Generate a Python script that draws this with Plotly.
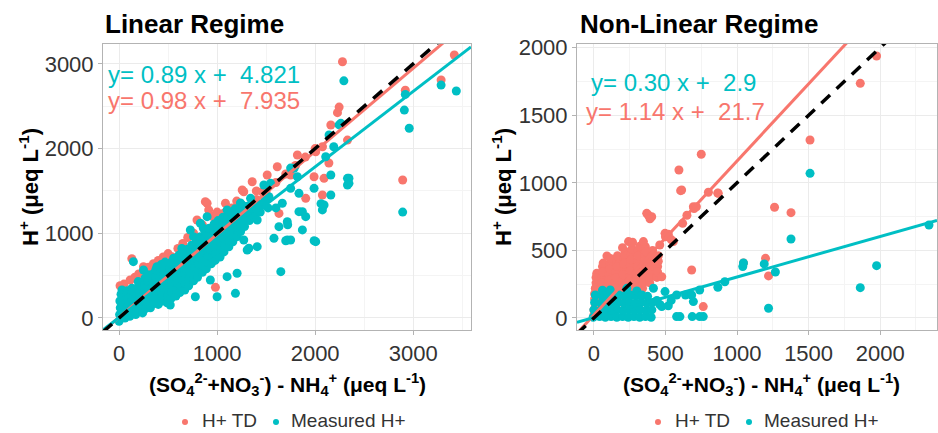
import plotly.graph_objects as go

# ---------------- data ----------------
# Linear regime, measured H+  (x, y) in ueq/L
lin_meas_pts = [
    (0, -40), (5, 40), (12, 120), (8, 200), (20, 280), (30, 330), (35, 60), (40, 160), (38, 240),
    (60, 0), (65, 90), (70, 180), (75, 260), (85, 320), (90, 40), (80, 130), (88, 220),
    (110, 20), (115, 100), (120, 190), (125, 270), (130, 350), (146, 665), (135, 60), (140, 150),
    (138, 230), (145, 310), (170, 40), (175, 120), (180, 200), (185, 280), (190, 360), (195, 430),
    (200, 80), (205, 170), (210, 250), (200, 330), (215, 400), (240, 60), (245, 150), (250, 230),
    (255, 310), (249, 567), (260, 390), (265, 470), (270, 110), (275, 200), (280, 280), (285, 360),
    (290, 440), (295, 510), (320, 120), (325, 200), (330, 280), (335, 360), (340, 440), (345, 520),
    (350, 170), (355, 250), (360, 330), (365, 410), (370, 490), (375, 570), (386, 606), (400, 160),
    (405, 240), (410, 320), (415, 400), (420, 480), (425, 560), (430, 630), (440, 200), (445, 280),
    (450, 360), (455, 440), (460, 520), (465, 600), (470, 660), (490, 180), (495, 260), (500, 340),
    (505, 420), (510, 500), (515, 580), (520, 650), (522, 153), (530, 230), (535, 310), (540, 390),
    (545, 470), (550, 550), (556, 705), (560, 630), (580, 260), (585, 340), (590, 420), (595, 500),
    (600, 580), (605, 660), (610, 740), (620, 300), (625, 380), (630, 460), (635, 540), (640, 620),
    (645, 700), (650, 780), (640, 820), (670, 330), (675, 410), (680, 490), (685, 570), (690, 650),
    (695, 730), (700, 810), (710, 380), (715, 460), (720, 540), (725, 620), (730, 700), (727, 1039),
    (735, 780), (740, 860), (760, 440), (765, 520), (770, 600), (775, 680), (778, 251), (780, 760),
    (785, 840), (790, 920), (760, 960), (800, 480), (805, 560), (810, 640), (815, 720), (820, 800),
    (825, 880), (829, 1118), (830, 960), (850, 540), (855, 620), (860, 700), (865, 780), (870, 860),
    (875, 940), (880, 1020), (860, 1060), (890, 580), (895, 660), (898, 1196), (900, 740), (905, 820),
    (910, 900), (915, 980), (920, 1060), (931, 449), (940, 640), (945, 720), (950, 800), (955, 880),
    (960, 960), (965, 1040), (970, 1110), (980, 680), (985, 760), (990, 840), (995, 920), (1000, 251),
    (1000, 1000), (1005, 1080), (1010, 1150), (1030, 720), (1035, 800), (1040, 880), (1045, 960),
    (1050, 1040), (1055, 1120), (1060, 1190), (1070, 780), (1075, 860), (1080, 940), (1085, 1020),
    (1090, 1100), (1102, 488), (1102, 1275), (1095, 1180), (1120, 840), (1125, 920), (1130, 1000),
    (1135, 1080), (1140, 1160), (1145, 1230), (1160, 900), (1165, 980), (1170, 1060), (1175, 1140),
    (1180, 1220), (1187, 291), (1185, 1290), (1204, 528), (1205, 960), (1210, 1040), (1215, 1120),
    (1220, 1200), (1225, 1280), (1238, 1357), (1240, 1020), (1245, 1100), (1250, 1180), (1255, 1260),
    (1260, 1330), (1204, 1078), (1272, 921), (1280, 1080), (1290, 1160), (1300, 1240), (1307, 803),
    (1310, 1320), (1324, 823), (1330, 1150), (1340, 1230), (1341, 1413), (1360, 1300), (1380, 1200),
    (1400, 1280), (1409, 842), (1409, 1157), (1420, 1350), (1440, 1250), (1460, 1330), (1477, 1570),
    (1490, 1400), (1529, 1432), (1520, 1300), (1545, 1590), (1580, 941), (1600, 1300), (1631, 1078),
    (1650, 547), (1665, 1354), (1700, 912), (1716, 1137), (1716, 921), (1720, 1100), (1750, 921),
    (1750, 1531), (1750, 1770), (1785, 1767), (1819, 1668), (1835, 1472), (1835, 1255), (1870, 1255),
    (1870, 1040), (1904, 1196), (1989, 1531), (1990, 912), (2006, 901), (2060, 1350), (2074, 1276),
    (2091, 1334), (2108, 1904), (2142, 2161), (2160, 1688), (2160, 1452), (2190, 2022), (2245, 2280),
    (2262, 2298), (2293, 2800), (2330, 1649), (2330, 1570), (2345, 1650), (2345, 1590), (2893, 1250),
    (2910, 2455), (2920, 2640), (2960, 2240), (3285, 2750), (3440, 2680),
]

# Linear regime, thermodynamic H+ (H+ TD)
lin_td_pts = [
    (10, 380), (50, 400), (100, 150), (113, 449), (130, 700), (160, 480), (200, 520), (200, 250),
    (249, 606), (300, 600), (300, 350), (350, 640), (400, 680), (400, 420), (450, 720), (500, 760),
    (500, 520), (539, 724), (600, 820), (600, 620), (650, 880), (700, 950), (700, 720), (760, 1000),
    (795, 1157), (800, 800), (850, 1100), (880, 1373), (898, 1354), (900, 900), (914, 1275),
    (950, 1200), (983, 362), (1000, 1250), (1000, 1216), (1000, 1000), (1068, 1236), (1085, 1354),
    (1100, 1100), (1150, 1300), (1200, 1380), (1200, 1200), (1256, 1511), (1272, 1491), (1300, 1300),
    (1358, 1609), (1400, 1500), (1400, 1400), (1460, 1491), (1500, 1500), (1511, 1688), (1600, 1600),
    (1614, 1786), (1631, 1235), (1700, 1700), (1750, 1688), (1800, 1800), (1819, 1924), (1900, 1900),
    (1904, 1413), (1989, 1668), (2000, 2000), (2006, 1963), (2074, 1452), (2075, 2022), (2091, 1649),
    (2140, 1830), (2160, 2279), (2228, 2424), (2245, 2490), (2279, 3026), (2330, 2100), (2893, 1629),
    (2920, 2690), (3285, 2810), (3420, 3105),
]

# Non-linear regime, thermodynamic H+ (H+ TD)
nl_td_pts = [
    (0, 20), (10, 100), (5, 180), (15, 260), (20, 330), (0, 60), (5, 140), (10, 220), (15, 300),
    (40, 60), (45, 140), (50, 220), (55, 300), (60, 380), (65, 406), (45, 100), (50, 180), (55, 260),
    (60, 340), (90, 80), (95, 160), (100, 240), (105, 320), (110, 400), (91, 459), (95, 120),
    (100, 200), (105, 280), (110, 360), (115, 440), (140, 100), (145, 180), (150, 260), (155, 340),
    (160, 420), (183, 429), (145, 140), (150, 220), (155, 300), (160, 380), (165, 460), (190, 120),
    (195, 200), (200, 280), (205, 360), (210, 440), (220, 490), (195, 160), (200, 240), (205, 320),
    (210, 400), (215, 470), (240, 150), (245, 230), (250, 310), (255, 390), (260, 470), (242, 565),
    (245, 190), (250, 270), (255, 350), (260, 430), (265, 510), (290, 180), (295, 260), (300, 340),
    (305, 420), (310, 500), (295, 220), (300, 300), (305, 380), (310, 460), (320, 530), (340, 220),
    (345, 300), (350, 380), (355, 460), (360, 527), (346, 565), (345, 260), (350, 340), (355, 420),
    (365, 490), (390, 260), (395, 340), (400, 420), (410, 500), (395, 300), (400, 380), (405, 460),
    (440, 300), (445, 380), (450, 460), (460, 540), (445, 340), (450, 420), (270, 560), (200, 520),
    (369, 774), (404, 749), (379, 762), (392, 734), (497, 626), (555, 565), (500, 600), (520, 620),
    (540, 580), (474, 305), (594, 1095), (606, 942), (613, 947), (620, 700), (650, 760), (683, 355),
    (695, 823), (700, 810), (716, 823), (750, 1211), (764, 84), (800, 930), (865, 924), (869, 922),
    (1045, 407), (1199, 441), (1220, 311), (1262, 819), (1377, 779), (1510, 1317), (1861, 1736),
    (1975, 1938),
]

# Non-linear regime, measured H+
nl_meas_pts = [
    (-5, 5), (0, 60), (5, 115), (10, 170), (40, 10), (45, 55), (50, 110), (55, 165), (60, 205),
    (80, 5), (85, 60), (90, 115), (95, 165), (114, 207), (120, 10), (125, 55), (130, 110), (135, 160),
    (160, 5), (165, 60), (170, 115), (175, 170), (200, 10), (205, 55), (210, 110), (215, 165),
    (230, 220), (240, 5), (245, 60), (250, 115), (255, 170), (280, 10), (285, 55), (290, 110),
    (295, 165), (300, 200), (320, 5), (325, 60), (330, 115), (335, 170), (360, 10), (365, 55),
    (370, 110), (375, 160), (400, 5), (405, 60), (410, 115), (416, 220), (440, 130), (460, 100),
    (474, 84), (497, 195), (520, 90), (540, 130), (578, 170), (578, 10), (601, 10), (640, 170),
    (683, 170), (687, 10), (695, 121), (739, 10), (739, 207), (764, 10), (866, 227), (915, 268),
    (1040, 380), (1045, 407), (1190, 400), (1220, 72), (1268, 340), (1377, 584), (1510, 1070),
    (1861, 224), (1975, 387), (2341, 688),
]

# Least-squares fits: [H+ TD, Measured H+]
lin_slopes = [0.98, 0.89]
lin_intercepts = [7.935, 4.821]
nl_slopes = [1.14, 0.30]
nl_intercepts = [21.7, 2.9]

series_names = ["H+ TD", "Measured H+"]

# ---------------- styling ----------------
RED = "#F8766D"
TEAL = "#00BFC4"
FONT = "Liberation Sans, Arial, sans-serif"
W, H = 938, 433

lin_xrange = [-164, 3590]
lin_yrange = [-142, 3235]
nl_xrange = [-118, 2397]
nl_yrange = [-89, 2027]


def px(x):
    return x / W


def py(y):
    return 1 - y / H


fig = go.Figure()

panels = [
    dict(xa="x", ya="y", pts=[lin_td_pts, lin_meas_pts],
         slopes=lin_slopes, intercepts=lin_intercepts, xr=lin_xrange),
    dict(xa="x2", ya="y2", pts=[nl_td_pts, nl_meas_pts],
         slopes=nl_slopes, intercepts=nl_intercepts, xr=nl_xrange),
]
colors = [RED, TEAL]

for p in panels:
    for pts, name, col in zip(p["pts"], series_names, colors):
        xs, ys = zip(*pts)
        fig.add_trace(go.Scatter(
            x=xs, y=ys, mode="markers", name=name, xaxis=p["xa"], yaxis=p["ya"],
            showlegend=False, marker=dict(color=col, size=9),
        ))
    for m, b, col in zip(p["slopes"], p["intercepts"], colors):
        lx = p["xr"]
        fig.add_trace(go.Scatter(
            x=lx, y=[m * v + b for v in lx], mode="lines", showlegend=False,
            xaxis=p["xa"], yaxis=p["ya"], line=dict(color=col, width=3), hoverinfo="skip",
        ))
    # 1:1 reference line
    fig.add_trace(go.Scatter(
        x=p["xr"], y=p["xr"], mode="lines", showlegend=False, xaxis=p["xa"], yaxis=p["ya"],
        line=dict(color="black", width=3.5, dash="12px,9px"), hoverinfo="skip",
    ))

axis_common = dict(
    ticks="outside", ticklen=4, tickcolor="#b3b3b3", tickwidth=1,
    tickfont=dict(size=22, color="#333333", family=FONT),
    showgrid=True, gridcolor="#ebebeb", gridwidth=1,
    showline=True, mirror=True, linecolor="#b3b3b3", linewidth=1,
    zeroline=False, automargin=False,
)

fig.update_layout(
    width=W, height=H, margin=dict(l=0, r=0, t=0, b=0),
    plot_bgcolor="white", paper_bgcolor="white",
    font=dict(family=FONT), showlegend=False,
    xaxis=dict(domain=[px(103), px(471)], range=lin_xrange, tickvals=[0, 1000, 2000, 3000],
               minor=dict(dtick=500, tick0=0, showgrid=True, gridcolor="#f4f4f4"),
               anchor="y", **axis_common),
    yaxis=dict(domain=[py(330), py(44)], range=lin_yrange, tickvals=[0, 1000, 2000, 3000],
               minor=dict(dtick=500, tick0=0, showgrid=True, gridcolor="#f4f4f4"),
               anchor="x", **axis_common),
    xaxis2=dict(domain=[px(577), px(937)], range=nl_xrange, tickvals=[0, 500, 1000, 1500, 2000],
                minor=dict(dtick=250, tick0=0, showgrid=True, gridcolor="#f4f4f4"),
                anchor="y2", **axis_common),
    yaxis2=dict(domain=[py(330), py(44)], range=nl_yrange, tickvals=[0, 500, 1000, 1500, 2000],
                minor=dict(dtick=250, tick0=0, showgrid=True, gridcolor="#f4f4f4"),
                anchor="x2", **axis_common),
)


def eq_text(m, b):
    return f"y= {m:.2f} x +\u00a0 {b:g}"


x_title = ("<b>(SO<sub>4</sub><sup>2-</sup>+NO<sub>3</sub><sup>-</sup>) - "
           "NH<sub>4</sub><sup>+</sup> (μeq L<sup>-1</sup>)</b>")
y_title = "<b>H<sup>+</sup> (μeq L<sup>-1</sup>)</b>"

annotations = [
    dict(text="<b>Linear Regime</b>", x=px(103), y=py(24), xanchor="left", yanchor="middle",
         font=dict(size=26, color="black")),
    dict(text="<b>Non-Linear Regime</b>", x=px(578), y=py(24), xanchor="left", yanchor="middle",
         font=dict(size=26, color="black")),
    dict(text=y_title, x=px(29), y=py(187), textangle=-90, xanchor="center", yanchor="middle",
         font=dict(size=22, color="black")),
    dict(text=y_title, x=px(502), y=py(187), textangle=-90, xanchor="center", yanchor="middle",
         font=dict(size=22, color="black")),
    dict(text=x_title, x=px(287), y=py(384), xanchor="center", yanchor="middle",
         font=dict(size=21, color="black")),
    dict(text=x_title, x=px(761), y=py(384), xanchor="center", yanchor="middle",
         font=dict(size=21, color="black")),
    dict(text=eq_text(lin_slopes[1], lin_intercepts[1]), x=px(106), y=py(74), xanchor="left",
         yanchor="middle", font=dict(size=24, color=TEAL)),
    dict(text=eq_text(lin_slopes[0], lin_intercepts[0]), x=px(106), y=py(101), xanchor="left",
         yanchor="middle", font=dict(size=24, color=RED)),
    dict(text=eq_text(nl_slopes[1], nl_intercepts[1]), x=px(589), y=py(82), xanchor="left",
         yanchor="middle", font=dict(size=24, color=TEAL)),
    dict(text=eq_text(nl_slopes[0], nl_intercepts[0]), x=px(584), y=py(111), xanchor="left",
         yanchor="middle", font=dict(size=24, color=RED)),
]

# Per-panel keys under each plot: small dot + label for each series
key_dot_y = 422
key_rows = [
    [(185, 200), (276, 289)],   # left panel: (dot x, label left x)
    [(658, 673), (749, 762)],   # right panel
]
shapes = []
for row in key_rows:
    for (dot_x, text_x), name, col in zip(row, series_names, colors):
        shapes.append(dict(type="circle", xref="paper", yref="paper",
                           x0=px(dot_x - 3), x1=px(dot_x + 3),
                           y0=py(key_dot_y + 3), y1=py(key_dot_y - 3),
                           fillcolor=col, line=dict(width=0)))
        annotations.append(dict(text=name, x=px(text_x), y=0, xanchor="left",
                                yanchor="bottom",
                                font=dict(size=19, color="#333333")))

for a in annotations:
    a.update(xref="paper", yref="paper", showarrow=False)
fig.update_layout(annotations=annotations, shapes=shapes)

fig.write_html("out.html")
